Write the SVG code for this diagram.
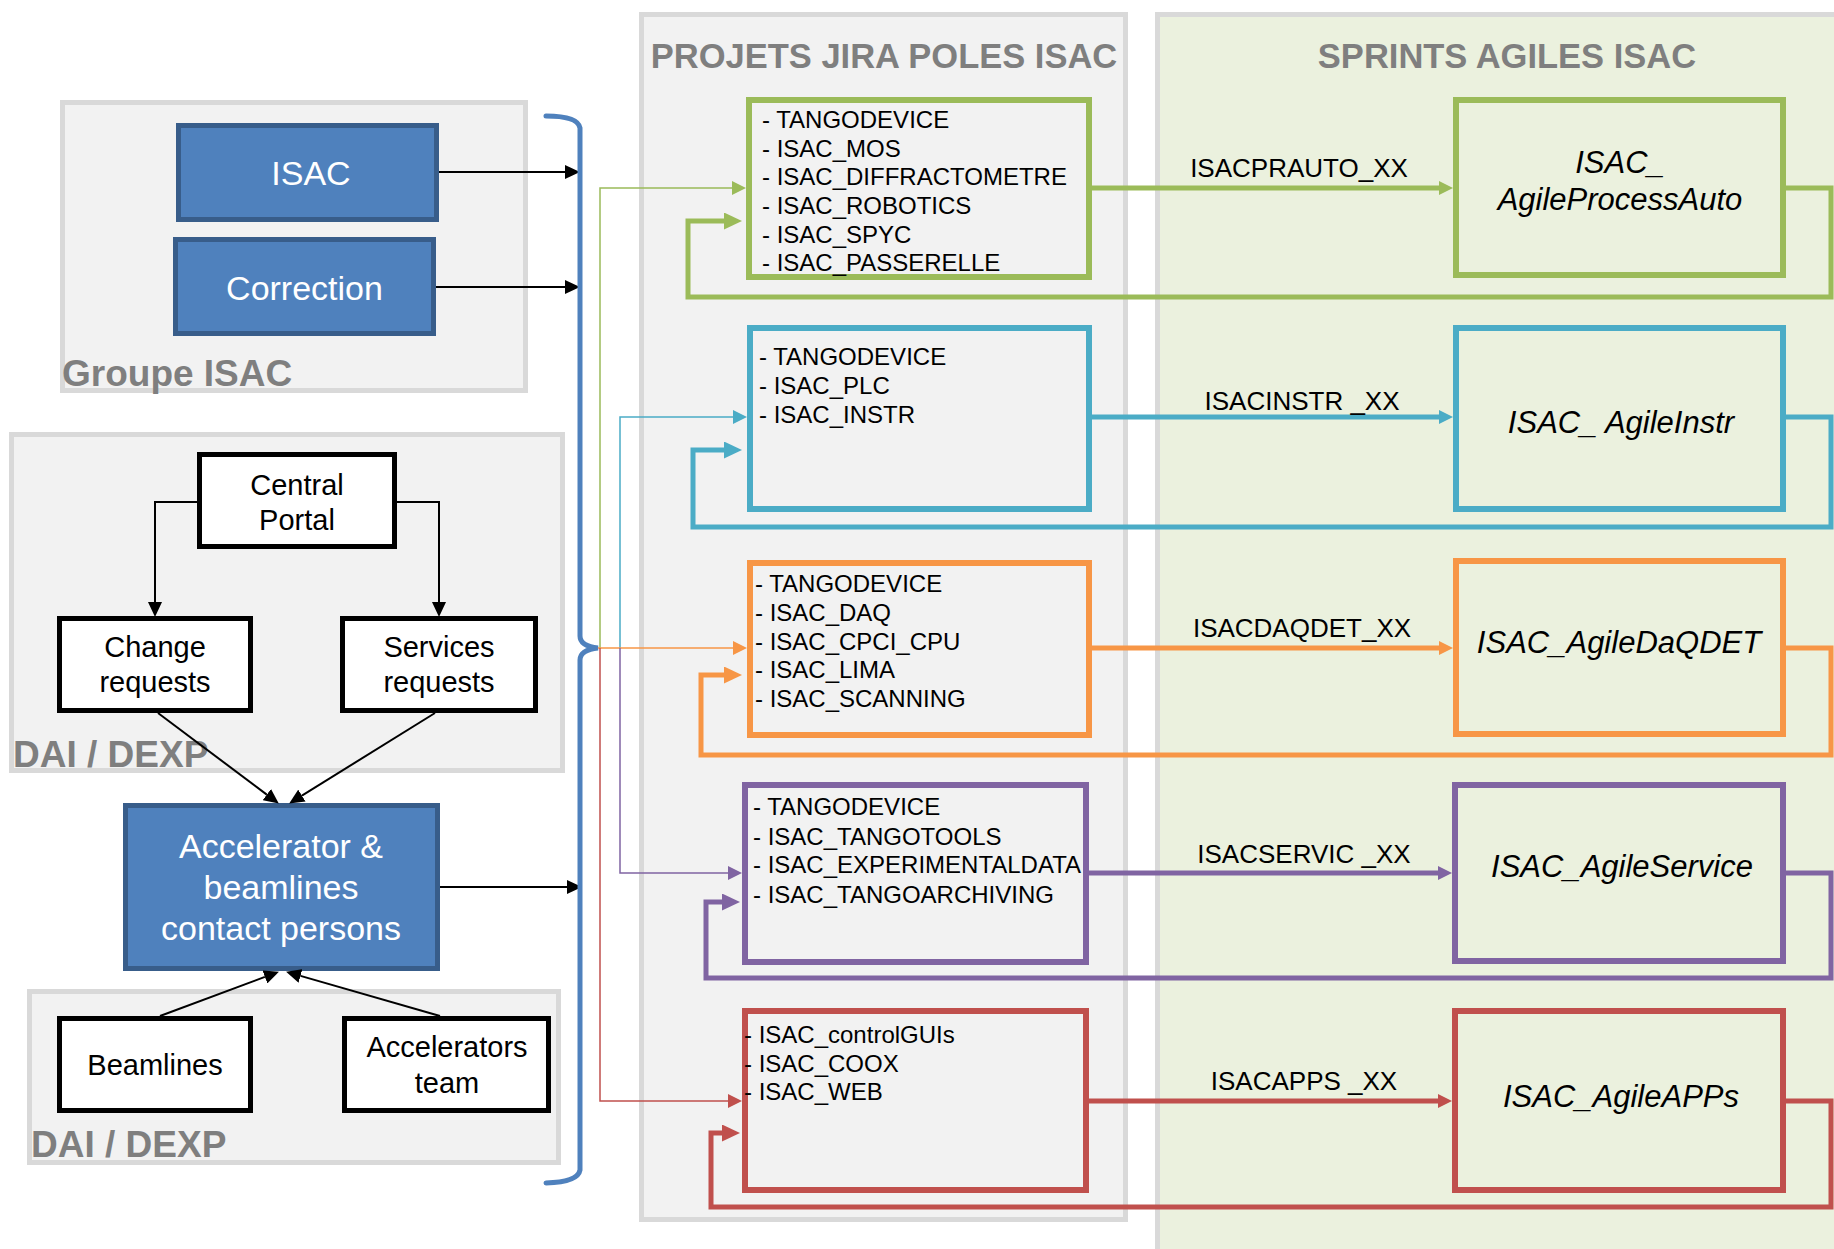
<svg xmlns="http://www.w3.org/2000/svg" width="1834" height="1249" viewBox="0 0 1834 1249">
  <defs>
    <style>
      .panel{fill:#f2f2f2;stroke:#d9d9d9;stroke-width:5}
      .sprints{fill:#ebf1de;stroke:#d9d9d9;stroke-width:5}
      .grp{font-family:"Liberation Sans",Arial,sans-serif;font-weight:bold;fill:#7f7f7f}
      .blue{fill:#4f81bd;stroke:#385d8a;stroke-width:5}
      .white{fill:#fff;stroke:#000;stroke-width:5}
      .wt{font-family:"Liberation Sans",Arial,sans-serif;font-size:34px;fill:#fff;text-anchor:middle}
      .bt{font-family:"Liberation Sans",Arial,sans-serif;font-size:29px;fill:#000;text-anchor:middle}
      .list{font-family:"Liberation Sans",Arial,sans-serif;font-size:24px;fill:#000}
      .lbl{font-family:"Liberation Sans",Arial,sans-serif;font-size:26px;fill:#000;text-anchor:middle}
      .sp{font-family:"Liberation Sans",Arial,sans-serif;font-size:31px;font-style:italic;fill:#000;text-anchor:middle}
      .proj{fill:#f2f2f2;stroke-width:6}
      .sprint{fill:#ebf1de;stroke-width:6}
      .thick{fill:none;stroke-width:5}
      .thin{fill:none;stroke-width:1.5}
      .blk{fill:none;stroke:#000;stroke-width:2}
      .brace{fill:none;stroke:#4f81bd;stroke-width:5;stroke-linecap:round}
      .cg{stroke:#9bbb59}
      .cc{stroke:#4bacc6}
      .co{stroke:#f79646}
      .cp{stroke:#8064a2}
      .cr{stroke:#c0504d}
    </style>
    <marker id="ak" viewBox="0 0 10 10" refX="0" refY="5" markerWidth="15" markerHeight="14" markerUnits="userSpaceOnUse" orient="auto" preserveAspectRatio="none"><path d="M0,0 L10,5 L0,10 z" fill="#000"/></marker>
    <marker id="ag" viewBox="0 0 10 10" refX="0" refY="5" markerWidth="14" markerHeight="14" markerUnits="userSpaceOnUse" orient="auto" preserveAspectRatio="none"><path d="M0,0 L10,5 L0,10 z" fill="#9bbb59"/></marker>
    <marker id="agL" viewBox="0 0 10 10" refX="0" refY="5" markerWidth="18" markerHeight="17" markerUnits="userSpaceOnUse" orient="auto" preserveAspectRatio="none"><path d="M0,0 L10,5 L0,10 z" fill="#9bbb59"/></marker>
    <marker id="ac" viewBox="0 0 10 10" refX="0" refY="5" markerWidth="14" markerHeight="14" markerUnits="userSpaceOnUse" orient="auto" preserveAspectRatio="none"><path d="M0,0 L10,5 L0,10 z" fill="#4bacc6"/></marker>
    <marker id="acL" viewBox="0 0 10 10" refX="0" refY="5" markerWidth="18" markerHeight="17" markerUnits="userSpaceOnUse" orient="auto" preserveAspectRatio="none"><path d="M0,0 L10,5 L0,10 z" fill="#4bacc6"/></marker>
    <marker id="ao" viewBox="0 0 10 10" refX="0" refY="5" markerWidth="14" markerHeight="14" markerUnits="userSpaceOnUse" orient="auto" preserveAspectRatio="none"><path d="M0,0 L10,5 L0,10 z" fill="#f79646"/></marker>
    <marker id="aoL" viewBox="0 0 10 10" refX="0" refY="5" markerWidth="18" markerHeight="17" markerUnits="userSpaceOnUse" orient="auto" preserveAspectRatio="none"><path d="M0,0 L10,5 L0,10 z" fill="#f79646"/></marker>
    <marker id="ap" viewBox="0 0 10 10" refX="0" refY="5" markerWidth="14" markerHeight="14" markerUnits="userSpaceOnUse" orient="auto" preserveAspectRatio="none"><path d="M0,0 L10,5 L0,10 z" fill="#8064a2"/></marker>
    <marker id="apL" viewBox="0 0 10 10" refX="0" refY="5" markerWidth="18" markerHeight="17" markerUnits="userSpaceOnUse" orient="auto" preserveAspectRatio="none"><path d="M0,0 L10,5 L0,10 z" fill="#8064a2"/></marker>
    <marker id="ar" viewBox="0 0 10 10" refX="0" refY="5" markerWidth="14" markerHeight="14" markerUnits="userSpaceOnUse" orient="auto" preserveAspectRatio="none"><path d="M0,0 L10,5 L0,10 z" fill="#c0504d"/></marker>
    <marker id="arL" viewBox="0 0 10 10" refX="0" refY="5" markerWidth="18" markerHeight="17" markerUnits="userSpaceOnUse" orient="auto" preserveAspectRatio="none"><path d="M0,0 L10,5 L0,10 z" fill="#c0504d"/></marker>
  </defs>

  <rect width="1834" height="1249" fill="#fff"/>

  <!-- background panels -->
  <g id="panels">
    <rect class="panel" x="62.5" y="102.5" width="463" height="288"/>
    <text class="grp" x="62" y="386" font-size="37">Groupe ISAC</text>
    <rect class="panel" x="11.5" y="434.5" width="551" height="336"/>
    <text class="grp" x="13" y="767" font-size="37">DAI / DEXP</text>
    <rect class="panel" x="29.5" y="991.5" width="529" height="171"/>
    <text class="grp" x="31" y="1157" font-size="37">DAI / DEXP</text>
    <rect class="panel" x="641.5" y="14.5" width="484" height="1205"/>
    <text class="grp" x="884" y="68" font-size="34.5" text-anchor="middle">PROJETS JIRA POLES ISAC</text>
    <rect class="sprints" x="1157.5" y="14.5" width="700" height="1260"/>
    <text class="grp" x="1507" y="68" font-size="34.5" text-anchor="middle">SPRINTS AGILES ISAC</text>
  </g>

  <!-- left-hand nodes -->
  <g id="isac">
    <rect class="blue" x="178.5" y="125.5" width="258" height="94"/>
    <text class="wt" x="311" y="185">ISAC</text>
  </g>
  <g id="correction">
    <rect class="blue" x="175.5" y="239.5" width="258" height="94"/>
    <text class="wt" x="304.5" y="300">Correction</text>
  </g>
  <g id="central-portal">
    <rect class="white" x="199.5" y="454.5" width="195" height="92"/>
    <text class="bt" x="297" y="495">Central</text>
    <text class="bt" x="297" y="530">Portal</text>
  </g>
  <g id="change-requests">
    <rect class="white" x="59.5" y="618.5" width="191" height="92"/>
    <text class="bt" x="155" y="657">Change</text>
    <text class="bt" x="155" y="692">requests</text>
  </g>
  <g id="services-requests">
    <rect class="white" x="342.5" y="618.5" width="193" height="92"/>
    <text class="bt" x="439" y="657">Services</text>
    <text class="bt" x="439" y="692">requests</text>
  </g>
  <g id="contact-persons">
    <rect class="blue" x="125.5" y="805.5" width="312" height="163"/>
    <text class="wt" x="281" y="858">Accelerator &amp;</text>
    <text class="wt" x="281" y="899">beamlines</text>
    <text class="wt" x="281" y="940">contact persons</text>
  </g>
  <g id="beamlines">
    <rect class="white" x="59.5" y="1018.5" width="191" height="92"/>
    <text class="bt" x="155" y="1075">Beamlines</text>
  </g>
  <g id="accelerators-team">
    <rect class="white" x="344.5" y="1018.5" width="204" height="92"/>
    <text class="bt" x="447" y="1057">Accelerators</text>
    <text class="bt" x="447" y="1093">team</text>
  </g>

  <!-- JIRA projects -->
  <g id="proj-processauto">
    <rect class="proj cg" x="749" y="100" width="340" height="177"/>
    <text class="list" x="762" y="128">- TANGODEVICE</text>
    <text class="list" x="762" y="157">- ISAC_MOS</text>
    <text class="list" x="762" y="185">- ISAC_DIFFRACTOMETRE</text>
    <text class="list" x="762" y="214">- ISAC_ROBOTICS</text>
    <text class="list" x="762" y="243">- ISAC_SPYC</text>
    <text class="list" x="762" y="271">- ISAC_PASSERELLE</text>
  </g>
  <g id="proj-instr">
    <rect class="proj cc" x="750" y="328" width="339" height="181"/>
    <text class="list" x="759" y="365">- TANGODEVICE</text>
    <text class="list" x="759" y="394">- ISAC_PLC</text>
    <text class="list" x="759" y="423">- ISAC_INSTR</text>
  </g>
  <g id="proj-daqdet">
    <rect class="proj co" x="750" y="563" width="339" height="172"/>
    <text class="list" x="755" y="592">- TANGODEVICE</text>
    <text class="list" x="755" y="621">- ISAC_DAQ</text>
    <text class="list" x="755" y="650">- ISAC_CPCI_CPU</text>
    <text class="list" x="755" y="678">- ISAC_LIMA</text>
    <text class="list" x="755" y="707">- ISAC_SCANNING</text>
  </g>
  <g id="proj-service">
    <rect class="proj cp" x="745" y="785" width="341" height="177"/>
    <text class="list" x="753" y="815">- TANGODEVICE</text>
    <text class="list" x="753" y="845">- ISAC_TANGOTOOLS</text>
    <text class="list" x="753" y="873">- ISAC_EXPERIMENTALDATA</text>
    <text class="list" x="753" y="903">- ISAC_TANGOARCHIVING</text>
  </g>
  <g id="proj-apps">
    <rect class="proj cr" x="745" y="1011" width="341" height="179"/>
    <text class="list" x="744" y="1043">- ISAC_controlGUIs</text>
    <text class="list" x="744" y="1072">- ISAC_COOX</text>
    <text class="list" x="744" y="1100">- ISAC_WEB</text>
  </g>

  <!-- agile sprints -->
  <g id="sprint-processauto">
    <rect class="sprint cg" x="1456" y="100" width="327" height="175"/>
    <text class="sp" x="1620" y="173">ISAC_</text>
    <text class="sp" x="1620" y="210">AgileProcessAuto</text>
  </g>
  <g id="sprint-instr">
    <rect class="sprint cc" x="1456" y="328" width="327" height="181"/>
    <text class="sp" x="1621" y="433">ISAC_ AgileInstr</text>
  </g>
  <g id="sprint-daqdet">
    <rect class="sprint co" x="1456" y="561" width="327" height="173"/>
    <text class="sp" x="1619" y="653">ISAC_AgileDaQDET</text>
  </g>
  <g id="sprint-service">
    <rect class="sprint cp" x="1455" y="785" width="328" height="176"/>
    <text class="sp" x="1622" y="877">ISAC_AgileService</text>
  </g>
  <g id="sprint-apps">
    <rect class="sprint cr" x="1455" y="1011" width="328" height="179"/>
    <text class="sp" x="1621" y="1107">ISAC_AgileAPPs</text>
  </g>

  <!-- connectors -->
  <g id="connectors">
    <!-- left-hand flow -->
    <path class="blk" d="M197,502 H155 V602" marker-end="url(#ak)"/>
    <path class="blk" d="M397,502 H439 V602" marker-end="url(#ak)"/>
    <path class="blk" d="M158,713 L266.8,794.6" marker-end="url(#ak)"/>
    <path class="blk" d="M435,713 L301.9,795.6" marker-end="url(#ak)"/>
    <path class="blk" d="M160,1016 L264.9,976.9" marker-end="url(#ak)"/>
    <path class="blk" d="M440,1016 L300.5,975.9" marker-end="url(#ak)"/>
    <path class="blk" d="M439,172 H565" marker-end="url(#ak)"/>
    <path class="blk" d="M436,287 H565" marker-end="url(#ak)"/>
    <path class="blk" d="M440,887 H567" marker-end="url(#ak)"/>

    <!-- brace gathering the inputs -->
    <path class="brace" d="M546,116 Q578,116 580,128 L580,636 Q580,646 598,648 Q580,650 580,660 L580,1170 Q578,1182 546,1183"/>

    <!-- brace to projects -->
    <path class="thin cg" d="M600,648 V188 H732" marker-end="url(#ag)"/>
    <path class="thin cc" d="M620,648 V417 H733" marker-end="url(#ac)"/>
    <path class="thin co" d="M598,648 H733" marker-end="url(#ao)"/>
    <path class="thin cp" d="M620,648 V873 H728" marker-end="url(#ap)"/>
    <path class="thin cr" d="M600,648 V1101 H728" marker-end="url(#ar)"/>

    <!-- projects to sprints -->
    <path class="thick cg" d="M1092,188 H1439" marker-end="url(#ag)"/>
    <path class="thick cc" d="M1092,417 H1439" marker-end="url(#ac)"/>
    <path class="thick co" d="M1092,648 H1439" marker-end="url(#ao)"/>
    <path class="thick cp" d="M1089,873 H1438" marker-end="url(#ap)"/>
    <path class="thick cr" d="M1089,1101 H1438" marker-end="url(#ar)"/>

    <!-- sprint feedback loops -->
    <path class="thick cg" d="M1786,188 H1831 V297 H688 V221 H724" marker-end="url(#agL)"/>
    <path class="thick cc" d="M1786,417 H1831 V527 H693 V450 H724" marker-end="url(#acL)"/>
    <path class="thick co" d="M1786,648 H1831 V755 H701 V675 H724" marker-end="url(#aoL)"/>
    <path class="thick cp" d="M1786,873 H1831 V978 H706 V902 H722" marker-end="url(#apL)"/>
    <path class="thick cr" d="M1786,1101 H1831 V1207 H711 V1133 H722" marker-end="url(#arL)"/>

    <!-- link labels -->
    <text class="lbl" x="1299" y="177">ISACPRAUTO_XX</text>
    <text class="lbl" x="1302" y="410">ISACINSTR _XX</text>
    <text class="lbl" x="1302" y="637">ISACDAQDET_XX</text>
    <text class="lbl" x="1304" y="863">ISACSERVIC _XX</text>
    <text class="lbl" x="1304" y="1090">ISACAPPS _XX</text>
  </g>
</svg>
